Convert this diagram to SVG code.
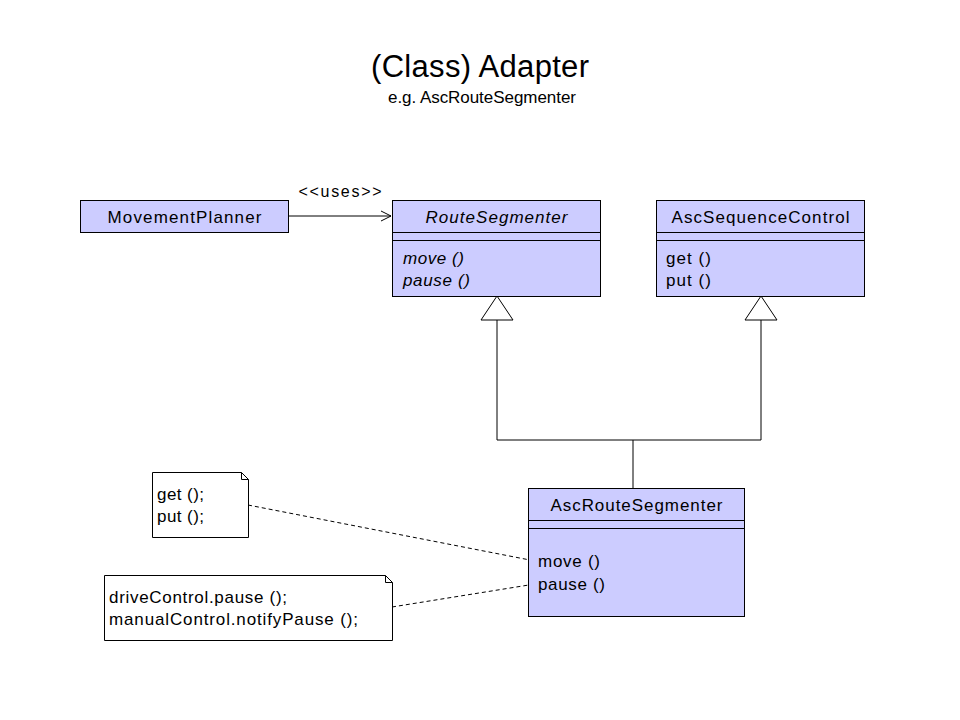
<svg xmlns="http://www.w3.org/2000/svg" width="960" height="720" viewBox="0 0 960 720">
<style>
text{font-family:"Liberation Sans",Arial,sans-serif;fill:#000}
.box{fill:#ccccff;stroke:#000;stroke-width:1}
.note{fill:#fff;stroke:#000;stroke-width:1}
.ln{fill:none;stroke:#000;stroke-width:1}
.dash{fill:none;stroke:#000;stroke-width:1;stroke-dasharray:4,3}
.t{font-size:17px}
.it{font-size:17px;font-style:italic}
</style>
<defs>
<marker id="open" markerWidth="12" markerHeight="12" refX="11" refY="6" orient="auto" markerUnits="userSpaceOnUse">
<path d="M1,1 L11,6 L1,11" fill="none" stroke="#000" stroke-width="1"/>
</marker>
</defs>
<rect width="960" height="720" fill="#fff"/>
<text x="480" y="77" font-size="31" text-anchor="middle" textLength="218">(Class) Adapter</text>
<text x="482" y="103" font-size="17" text-anchor="middle" textLength="188">e.g. AscRouteSegmenter</text>

<g id="connectors">
<line class="ln" x1="288" y1="216" x2="391" y2="216" marker-end="url(#open)"/>
<text x="340" y="197" font-size="16" text-anchor="middle" textLength="83">&lt;&lt;uses&gt;&gt;</text>
<polygon points="497,296 481,320 513,320" fill="#fff" stroke="#000"/>
<polygon points="761,296 745,320 777,320" fill="#fff" stroke="#000"/>
<polyline class="ln" points="497,320 497,440 761,440 761,320"/>
<line class="ln" x1="633" y1="440" x2="633" y2="488"/>
<line class="dash" x1="248" y1="505" x2="535" y2="561"/>
<line class="dash" x1="392" y1="607" x2="535" y2="584"/>
</g>

<g id="MovementPlanner">
<rect class="box" x="80.5" y="200.5" width="208" height="32"/>
<text class="t" x="184.5" y="223" text-anchor="middle" textLength="154">MovementPlanner</text>
</g>

<g id="RouteSegmenter">
<rect class="box" x="392.5" y="200.5" width="208" height="96"/>
<line class="ln" x1="392" y1="232.5" x2="600" y2="232.5"/>
<line class="ln" x1="392" y1="240.5" x2="600" y2="240.5"/>
<text class="it" x="496.5" y="223" text-anchor="middle" textLength="142">RouteSegmenter</text>
<text class="it" x="403" y="264" textLength="61">move ()</text>
<text class="it" x="403" y="286" textLength="67">pause ()</text>
</g>

<g id="AscSequenceControl">
<rect class="box" x="656.5" y="200.5" width="208" height="96"/>
<line class="ln" x1="656" y1="232.5" x2="864" y2="232.5"/>
<line class="ln" x1="656" y1="240.5" x2="864" y2="240.5"/>
<text class="t" x="760.5" y="223" text-anchor="middle" textLength="178">AscSequenceControl</text>
<text class="t" x="666" y="264" textLength="45">get  ()</text>
<text class="t" x="666" y="286" textLength="45">put  ()</text>
</g>

<g id="AscRouteSegmenter">
<rect class="box" x="528.5" y="488.5" width="216" height="128"/>
<line class="ln" x1="528" y1="520.5" x2="744" y2="520.5"/>
<line class="ln" x1="528" y1="528.5" x2="744" y2="528.5"/>
<text class="t" x="636.5" y="511" text-anchor="middle" textLength="172">AscRouteSegmenter</text>
<text class="t" x="538" y="567" textLength="62">move ()</text>
<text class="t" x="538" y="590" textLength="67">pause ()</text>
</g>

<g id="note1">
<path class="note" d="M152.5,472.5 H241.5 L248.5,479.5 V537.5 H152.5 Z"/>
<path class="ln" d="M241.5,472.5 V479.5 H248.5"/>
<text class="t" x="157" y="500" textLength="47">get ();</text>
<text class="t" x="157" y="522" textLength="47">put ();</text>
</g>

<g id="note2">
<path class="note" d="M104.5,575.5 H385.5 L392.5,582.5 V640.5 H104.5 Z"/>
<path class="ln" d="M385.5,575.5 V582.5 H392.5"/>
<text class="t" x="109" y="603" textLength="178">driveControl.pause ();</text>
<text class="t" x="109" y="625" textLength="249">manualControl.notifyPause ();</text>
</g>
</svg>
